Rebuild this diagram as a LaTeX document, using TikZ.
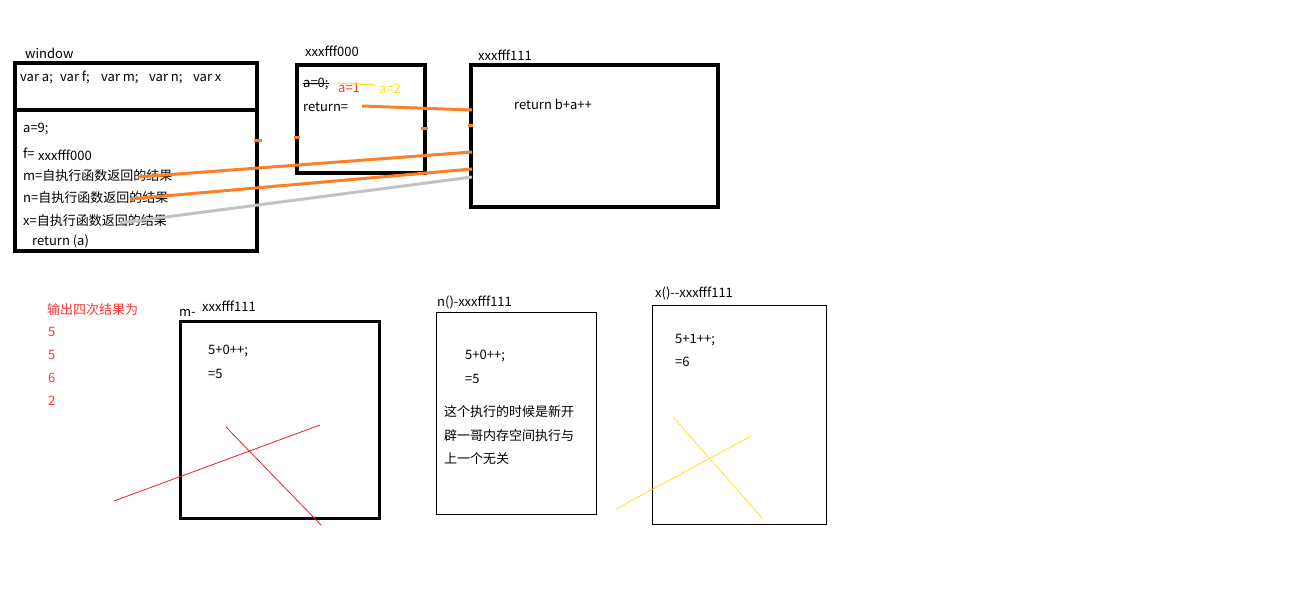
\documentclass[tikz,border=0pt]{standalone}
\usepackage{fontspec}
\setmainfont{Noto Sans CJK SC}
\definecolor{porange}{HTML}{FF7F27}
\definecolor{pgray}{HTML}{C3C3C3}
\definecolor{pred}{HTML}{ED1C24}
\definecolor{pyellow}{HTML}{FFE21F}
\definecolor{tred}{HTML}{FF3333}
\begin{document}
\begin{tikzpicture}[x=1pt,y=-1pt,
  txt/.style={anchor=west,inner sep=0pt,font=\fontsize{13}{15}\selectfont},
  thickbox/.style={draw,line width=4pt},
  midbox/.style={draw,line width=3pt},
  thinbox/.style={draw,line width=1pt},
  oline/.style={porange,line width=3pt},
  gline/.style={pgray,line width=3pt},
  rline/.style={pred,line width=0.8pt},
  yline/.style={pyellow,line width=0.8pt}]
\useasboundingbox (0,0) rectangle (1298,604);
% boxes
\draw[thickbox] (15,63) rectangle (257,251);
\draw[thickbox] (15,110) -- (257,110);
\draw[thickbox] (297,65) rectangle (425,173);
\draw[thickbox] (471,65) rectangle (718,207);
\draw[midbox] (180,321) rectangle (379,518);
\draw[thinbox] (436,312) rectangle (596,514);
\draw[thinbox] (652,305) rectangle (826,524);
% window
\node[txt] (lwin) at (25,53) {window};
\node[txt] (vars) at (20,77) {\makebox[40pt][l]{var a;}\makebox[41pt][l]{var f;}\makebox[48pt][l]{var m;}\makebox[44pt][l]{var n;}var x};
\node[txt] (a9) at (23,129) {a=9;};
\node[txt] (feq) at (23,153) {f=};
\node[txt] (fval) at (38,155) {xxxfff000};
\node[txt] (meq) at (23,176) {m=自执行函数返回的结果};
\node[txt] (neq) at (23,198) {n=自执行函数返回的结果};
\node[txt] (xeq) at (23,221) {x=自执行函数返回的结果};
\node[txt] (ret) at (32,241) {return (a)};
% xxxfff000
\node[txt] (l000) at (305,51) {xxxfff000};
\node[txt] (a0) at (303,84) {a=0;};
\node[txt,text=tred] (a1) at (338,88) {a=1};
\node[txt,text=pyellow] (a2) at (379,89) {a=2};
\node[txt] (reteq) at (303,107) {return=};
\draw[black,line width=1pt] (a0.west) -- (a0.east);
\coordinate (y1s) at (337,83);
\coordinate (y1e) at (375,85);
\draw[yline,line width=1.2pt] (y1s) -- (y1e);
% xxxfff111
\node[txt] (l111) at (478,55) {xxxfff111};
\node[txt] (retb) at (514,104) {return b+a+{}+};
% connectors
\coordinate (r1s) at (362,106);
\coordinate (r1e) at (472,110);
\coordinate (m1s) at (138,177);
\coordinate (m1e) at (472,152);
\coordinate (n1s) at (130,199);
\coordinate (n1e) at (472,169);
\coordinate (x1s) at (120,223);
\coordinate (x1e) at (472,177);
\draw[oline] (r1s) -- (r1e);
\draw[oline] (m1s) -- (m1e);
\draw[oline] (n1s) -- (n1e);
\draw[gline] (x1s) -- (x1e);
\coordinate (t1a) at (254,141); \coordinate (t1b) at (262,141);
\coordinate (t2a) at (294,138); \coordinate (t2b) at (300,138);
\coordinate (t3a) at (421,129); \coordinate (t3b) at (428,129);
\coordinate (t4a) at (468,126); \coordinate (t4b) at (473,126);
\draw[oline] (t1a) -- (t1b);
\draw[oline] (t2a) -- (t2b);
\draw[oline] (t3a) -- (t3b);
\draw[oline] (t4a) -- (t4b);
% results
\node[txt,text=tred] (res) at (47,310) {输出四次结果为};
\node[txt,text=tred] (r5a) at (48,332) {5};
\node[txt,text=tred] (r5b) at (48,355) {5};
\node[txt,text=tred] (r6) at (48,378) {6};
\node[txt,text=tred] (r2) at (48,401) {2};
% m box
\node[txt] (mm) at (179,313) {m-};
\node[txt] (ml) at (202,306) {xxxfff111};
\node[txt] (me1) at (208,351) {5+0+{}+;};
\node[txt] (me2) at (208,374) {=5};
\coordinate (ra1) at (114,501); \coordinate (ra2) at (320,425);
\coordinate (rb1) at (226,427); \coordinate (rb2) at (321,525);
\draw[rline] (ra1) -- (ra2);
\draw[rline] (rb1) -- (rb2);
% n box
\node[txt] (nl) at (437,302) {n()-xxxfff111};
\node[txt] (ne1) at (465,356) {5+0+{}+;};
\node[txt] (ne2) at (465,379) {=5};
\node[txt] (nc1) at (444,412) {这个执行的时候是新开};
\node[txt] (nc2) at (444,436) {辟一哥内存空间执行与};
\node[txt] (nc3) at (444,459) {上一个无关};
% x box
\node[txt] (xl) at (655,293) {x()-{}-xxxfff111};
\node[txt] (xe1) at (675,340) {5+1+{}+;};
\node[txt] (xe2) at (675,362) {=6};
\coordinate (ya1) at (616,509); \coordinate (ya2) at (751,436);
\coordinate (yb1) at (673,417); \coordinate (yb2) at (763,519);
\draw[yline] (ya1) -- (ya2);
\draw[yline] (yb1) -- (yb2);
\end{tikzpicture}
\end{document}
